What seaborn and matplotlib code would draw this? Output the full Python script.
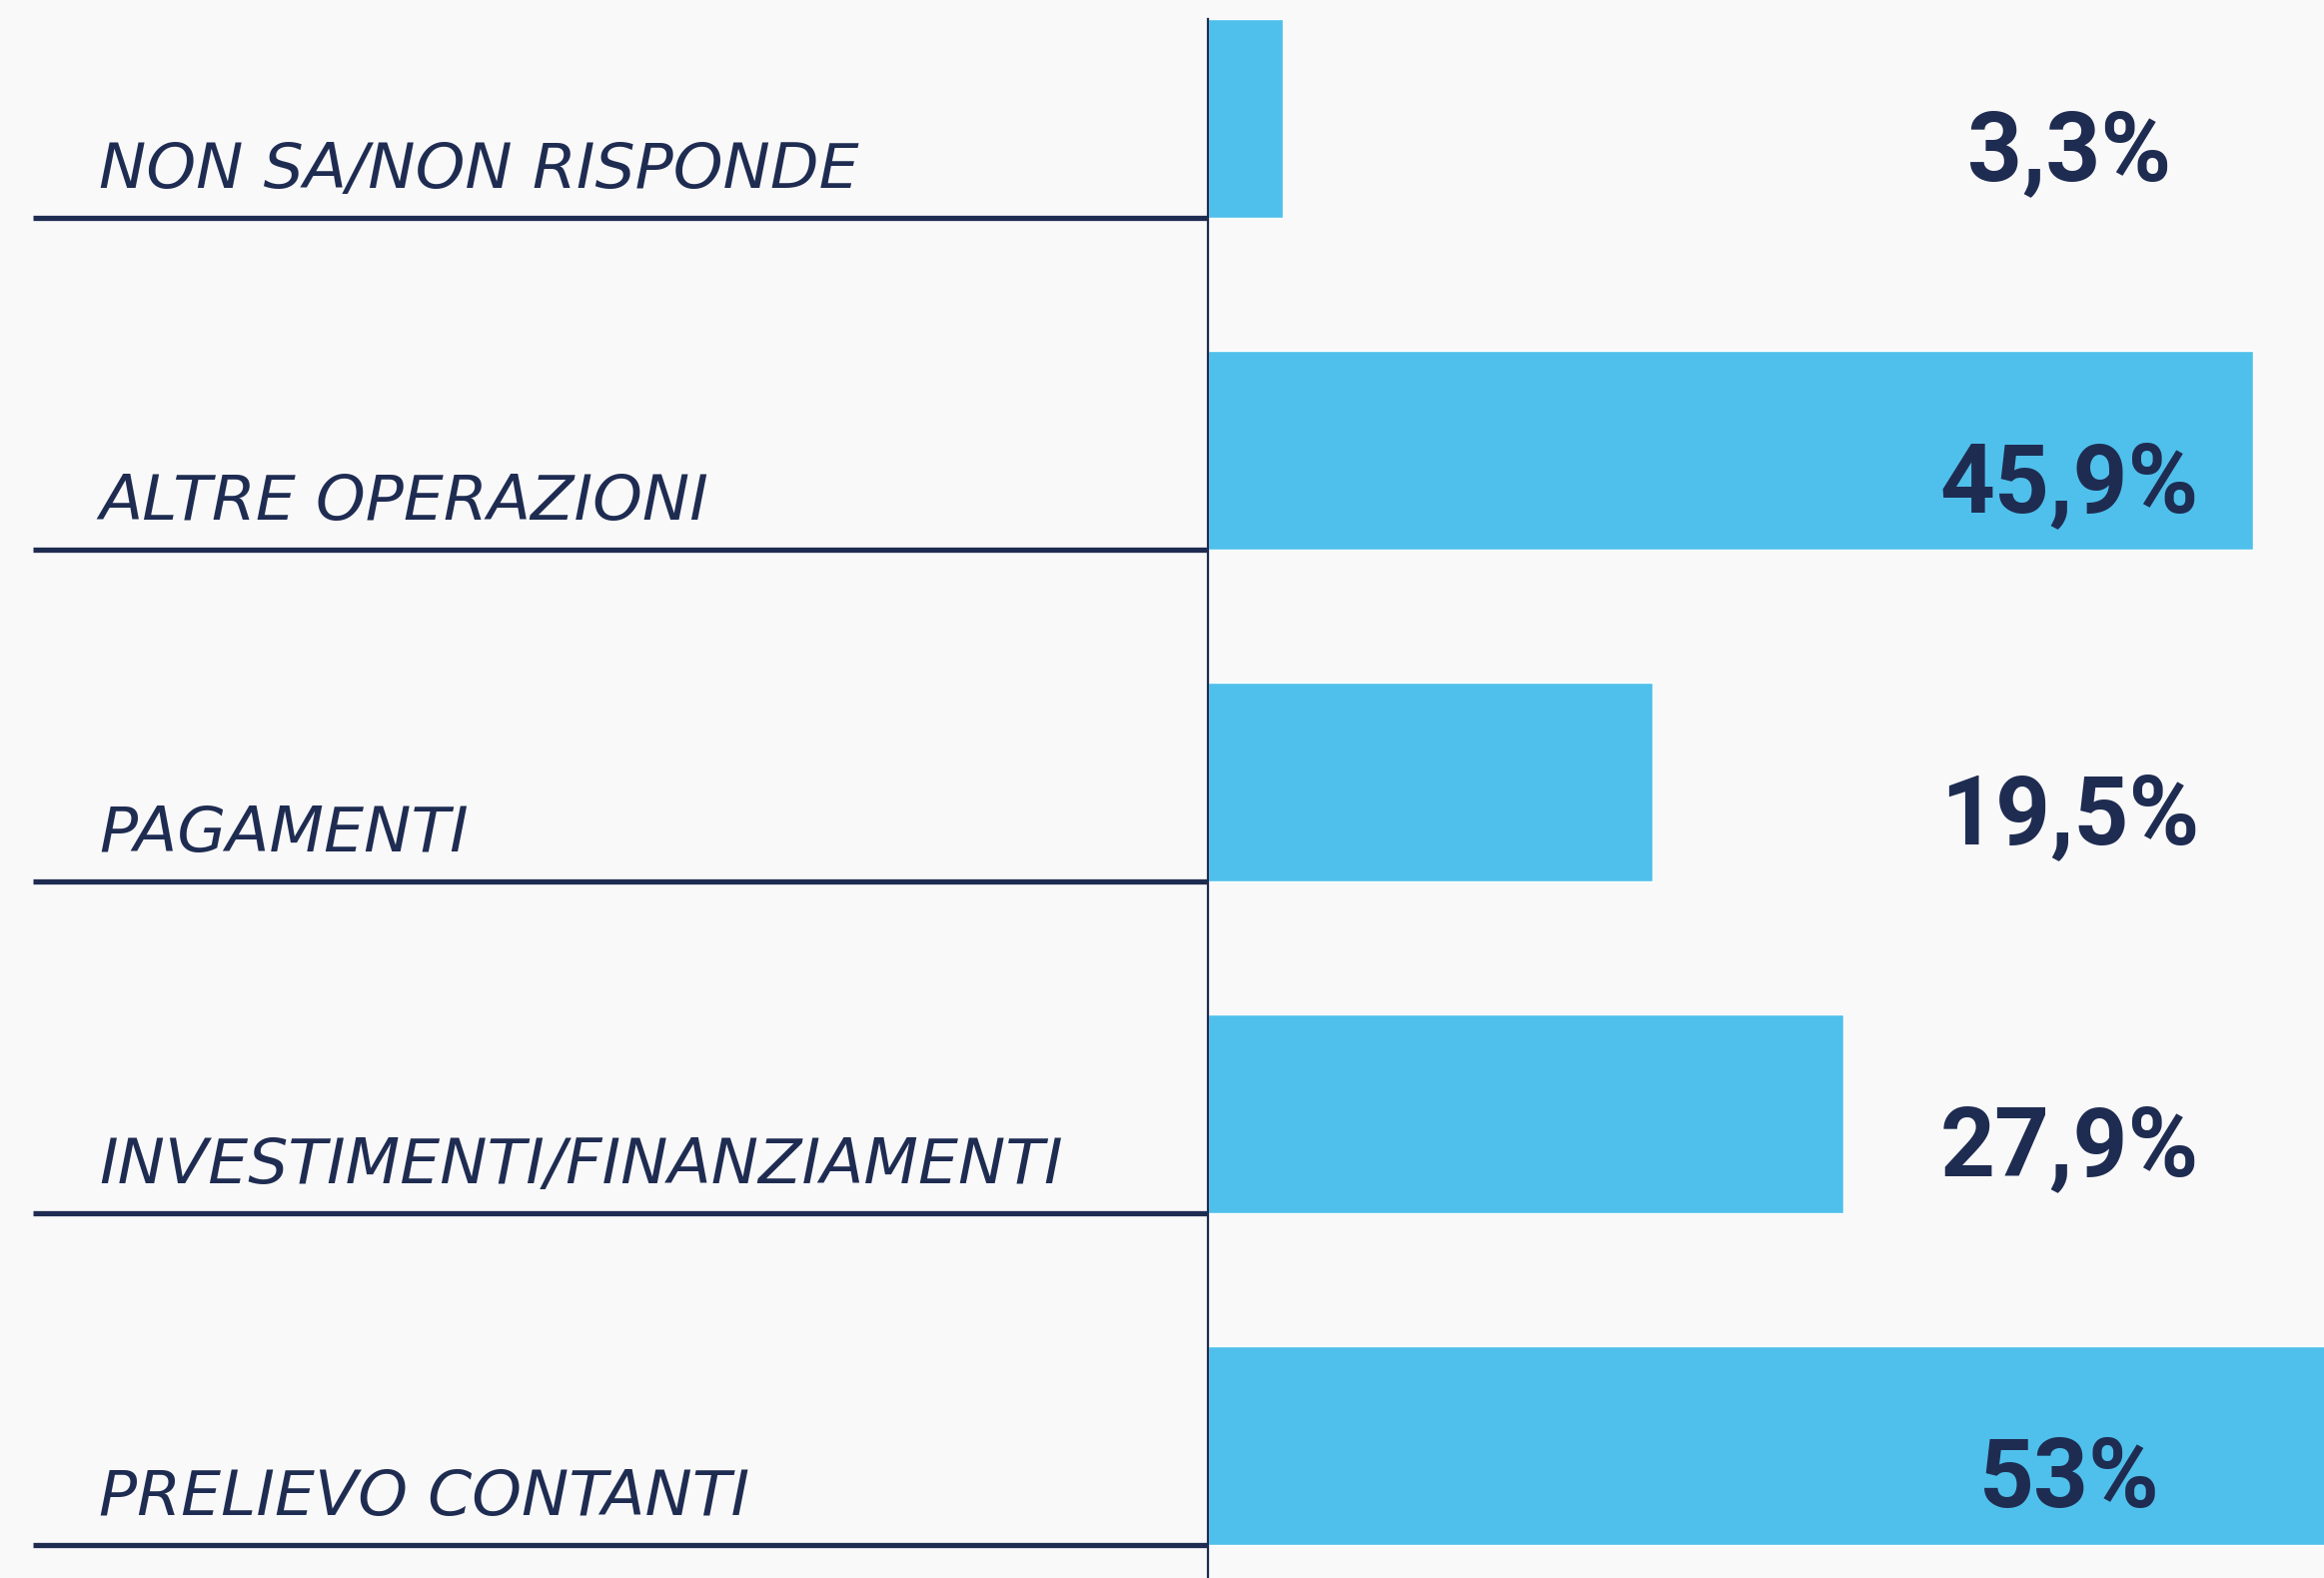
import matplotlib
matplotlib.use("Agg")
import matplotlib.pyplot as plt
import matplotlib.transforms as mtransforms
import pandas as pd
import seaborn as sns

# data, top to bottom as in the chart
categories = ["NON SA/NON RISPONDE", "ALTRE OPERAZIONI", "PAGAMENTI",
              "INVESTIMENTI/FINANZIAMENTI", "PRELIEVO CONTANTI"]
values = [3.3, 45.9, 19.5, 27.9, 53.0]
value_labels = ["3,3%", "45,9%", "19,5%", "27,9%", "53%"]

NAVY = "#1f2c52"
BLUE = "#4fc0eb"
BG = "#f9f9f9"

sns.set_theme(style="white")
plt.rcParams["font.family"] = ["DejaVu Sans"]

df = pd.DataFrame({"categoria": categories, "valore": values})

fig = plt.figure(figsize=(23.26, 15.79), dpi=100, facecolor=BG)
ax = fig.add_axes([0.5198, 0.0, 0.4802, 0.988])
ax.set_facecolor("none")

sns.barplot(data=df, x="valore", y="categoria", orient="h", color=BLUE,
            width=0.6, saturation=1, ax=ax)

ax.set_xlim(0, 49)
ax.set_ylim(4.4, -0.3)
ax.set_xlabel("")
ax.set_ylabel("")
ax.set_xticks([])
ax.set_yticks([])
for side in ["top", "right", "bottom"]:
    ax.spines[side].set_visible(False)
ax.spines["left"].set_color(NAVY)
ax.spines["left"].set_linewidth(1.6)

trans = mtransforms.blended_transform_factory(ax.transAxes, ax.transData)
for i, (cat, lab) in enumerate(zip(categories, value_labels)):
    # underline from the left margin to the axis
    ax.plot([-1.0528, 0], [i + 0.3, i + 0.3], color=NAVY, lw=3.8,
            transform=trans, clip_on=False, solid_capstyle="butt")
    ax.text(-0.9937, i + 0.21, cat, transform=trans, ha="left", va="baseline",
            fontsize=45.5, fontstyle="italic", color=NAVY,
            family=["DejaVu Sans"])
    ax.text(0.772, i + 0.185, lab, transform=trans, ha="center", va="baseline",
            fontsize=69, fontweight="bold", color=NAVY,
            family=["Roboto", "DejaVu Sans"])

fig.savefig("out.png", dpi=100, facecolor=BG)
